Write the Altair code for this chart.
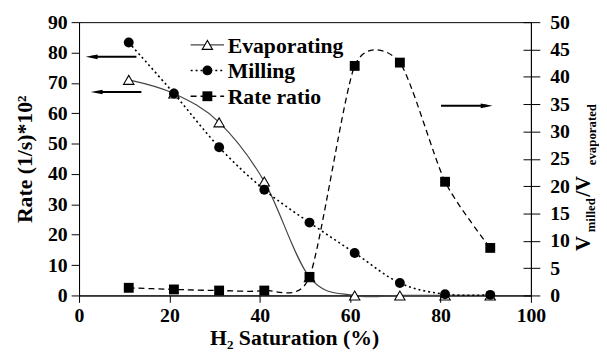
import altair as alt
import pandas as pd

# ---------------- data ----------------
sat = [11, 21, 31, 41, 51, 61, 71, 81, 91]
evaporating = [71.0, 66.5, 57.0, 37.5, 6.0, 0.0, 0.0, 0.0, 0.0]
milling = [83.3, 66.5, 48.8, 34.8, 24.0, 14.0, 4.1, 0.4, 0.2]
rate_ratio = [1.4, 1.1, 0.9, 0.9, 3.4, 42.0, 42.6, 20.8, 8.7]

series_names = ["Evaporating", "Milling", "Rate ratio"]

x_ticks = [0, 20, 40, 60, 80, 100]
rate_ticks = [0, 10, 20, 30, 40, 50, 60, 70, 80, 90]
ratio_ticks = [0, 5, 10, 15, 20, 25, 30, 35, 40, 45, 50]

# annotation arrows (data units)
left_arrow_y = [78.6, 67.0]
left_arrow_from = [12.7, 13.8]
left_arrow_to = [2.8, 3.9]
right_arrow_y = [34.7]
right_arrow_from = [80.1]
right_arrow_to = [90.2]

# legend rows (data units of rate axis)
legend_y = [82.5, 74.1, 65.6]
legend_x1 = [24.7, 24.7, 24.7]
legend_x2 = [32.1, 32.1, 32.1]
legend_xm = [28.4, 28.4, 28.4]
legend_xt = [32.9, 32.9, 32.9]

FONT = "Liberation Serif"

df = pd.DataFrame({"sat": sat, "evap": evaporating, "mill": milling, "ratio": rate_ratio})
leg = pd.DataFrame({"name": series_names, "y": legend_y, "x1": legend_x1,
                    "x2": legend_x2, "xm": legend_xm, "xt": legend_xt})
larr = pd.DataFrame({"y": left_arrow_y, "x1": left_arrow_from, "x2": left_arrow_to})
rarr = pd.DataFrame({"y": right_arrow_y, "x1": right_arrow_from, "x2": right_arrow_to})

xscale = alt.Scale(domain=[0, 100], nice=False)
rate_scale = alt.Scale(domain=[0, 90], nice=False)
ratio_scale = alt.Scale(domain=[0, 50], nice=False)

x_axis = alt.Axis(values=x_ticks, orient="bottom", tickSize=7, labelPadding=3,
                  labelFlush=False,
                  labelFontSize=20, labelFont=FONT, labelFontWeight="bold",
                  title="H₂ Saturation (%)", titleFont=FONT, titleFontSize=22,
                  titleFontWeight="bold", titleX=218, titleY=50,
                  titleBaseline="alphabetic", grid=False,
                  domainColor="black", tickColor="black", labelColor="black",
                  titleColor="black")

left_axis = alt.Axis(values=rate_ticks, orient="left", tickSize=8, labelPadding=4,
                     labelFlush=False,
                     labelFontSize=20, labelFont=FONT, labelFontWeight="bold",
                     title="Rate (1/s)*10²", titleFont=FONT, titleFontSize=22,
                     titleFontWeight="bold", titleX=-48, titleY=138.5,
                     titleAngle=270, titleBaseline="alphabetic", titleAlign="center",
                     grid=False, domainColor="black", tickColor="black",
                     labelColor="black", titleColor="black")

right_axis = alt.Axis(values=ratio_ticks, orient="right", tickSize=9, labelPadding=10,
                      labelFlush=False,
                      labelFontSize=20, labelFont=FONT, labelFontWeight="bold",
                      labelAlign="left", title="", grid=False,
                      domainColor="black", tickColor="black", labelColor="black")

inner_axis = alt.Axis(values=ratio_ticks, orient="right", tickSize=8, offset=-8,
                      labels=False, domain=False, title="", grid=False,
                      tickColor="black")

X = alt.X("sat:Q", scale=xscale, axis=x_axis)
Yrate = lambda f: alt.Y(f"{f}:Q", scale=rate_scale, axis=left_axis)
Yratio = lambda f: alt.Y(f"{f}:Q", scale=ratio_scale, axis=right_axis)

base = alt.Chart(df)

evap_line = base.mark_line(interpolate="cardinal", color="#444444", strokeWidth=1.2).encode(x=X, y=Yrate("evap"))
mill_line = base.mark_line(interpolate="cardinal", color="black", strokeWidth=1.6,
                           strokeDash=[2, 3]).encode(x=X, y=Yrate("mill"))
evap_pts = base.mark_point(shape="triangle-up", size=110, filled=True, fill="white",
                           stroke="black", strokeWidth=1.1, opacity=1).encode(x=X, y=Yrate("evap"))
mill_pts = base.mark_circle(size=100, color="black", opacity=1).encode(x=X, y=Yrate("mill"))

LEFT_HEAD = "M-1,0L1,-0.4L1,0.4Z"
RIGHT_HEAD = "M1,0L-1,-0.4L-1,0.4Z"

larrow_line = alt.Chart(larr).mark_rule(color="black", strokeWidth=2).encode(
    x=alt.X("x1:Q", scale=xscale, axis=x_axis), x2="x2:Q", y=alt.Y("y:Q", scale=rate_scale, axis=left_axis))
larrow_head = alt.Chart(larr).mark_point(shape=LEFT_HEAD, size=144, filled=True,
                                         color="black", opacity=1).encode(
    x=alt.X("x2:Q", scale=xscale, axis=x_axis), y=alt.Y("y:Q", scale=rate_scale, axis=left_axis))

# legend
legbase = alt.Chart(leg)
LX1 = alt.X("x1:Q", scale=xscale, axis=x_axis)
LY = alt.Y("y:Q", scale=rate_scale, axis=left_axis)
leg_evap_line = legbase.transform_filter(alt.datum.name == "Evaporating").mark_rule(
    color="#444444", strokeWidth=1.2).encode(x=LX1, x2="x2:Q", y=LY)
leg_mill_line = legbase.transform_filter(alt.datum.name == "Milling").mark_rule(
    color="black", strokeWidth=1.6, strokeDash=[2, 3]).encode(x=LX1, x2="x2:Q", y=LY)
leg_ratio_line = legbase.transform_filter(alt.datum.name == "Rate ratio").mark_rule(
    color="black", strokeWidth=1.3, strokeDash=[6, 4]).encode(x=LX1, x2="x2:Q", y=LY)
LXM = alt.X("xm:Q", scale=xscale, axis=x_axis)
leg_evap_pt = legbase.transform_filter(alt.datum.name == "Evaporating").mark_point(
    shape="triangle-up", size=110, filled=True, fill="white", stroke="black",
    strokeWidth=1.1, opacity=1).encode(x=LXM, y=LY)
leg_mill_pt = legbase.transform_filter(alt.datum.name == "Milling").mark_circle(
    size=100, color="black", opacity=1).encode(x=LXM, y=LY)
leg_ratio_pt = legbase.transform_filter(alt.datum.name == "Rate ratio").mark_square(
    size=100, color="black", opacity=1).encode(x=LXM, y=LY)
leg_text = legbase.mark_text(align="left", baseline="middle", font=FONT, fontSize=22,
                             fontWeight="bold", color="black", dy=1).encode(
    x=alt.X("xt:Q", scale=xscale, axis=x_axis), y=LY, text="name:N")

left_layer = alt.layer(evap_line, mill_line, evap_pts, mill_pts, larrow_line, larrow_head,
                       leg_evap_line, leg_mill_line, leg_ratio_line,
                       leg_evap_pt, leg_mill_pt, leg_ratio_pt, leg_text)

ratio_line = base.mark_line(interpolate="cardinal", tension=0.3, color="black", strokeWidth=1.3,
                            strokeDash=[6, 4]).encode(x=X, y=Yratio("ratio"))
ratio_pts = base.mark_square(size=100, color="black", opacity=1).encode(x=X, y=Yratio("ratio"))
rarrow_line = alt.Chart(rarr).mark_rule(color="black", strokeWidth=2).encode(
    x=alt.X("x1:Q", scale=xscale, axis=x_axis), x2="x2:Q",
    y=alt.Y("y:Q", scale=ratio_scale, axis=right_axis))
rarrow_head = alt.Chart(rarr).mark_point(shape=RIGHT_HEAD, size=144, filled=True,
                                         color="black", opacity=1).encode(
    x=alt.X("x2:Q", scale=xscale, axis=x_axis), y=alt.Y("y:Q", scale=ratio_scale, axis=right_axis))

right_layer = alt.layer(ratio_line, ratio_pts, rarrow_line, rarrow_head)

# inward half of the right-axis ticks + right axis title with subscripts
title_parts = ["V", "milled", "/V", "evaporated"]
title_sizes = [21, 13, 21, 13]
title_px = [518, 523, 518, 524]
title_py = [232, 213, 177, 145]

inner_ticks = base.mark_point(opacity=0).encode(
    x=X, y=alt.Y("ratio:Q", scale=ratio_scale, axis=inner_axis))

title_layers = []
for t, s, px, py in zip(title_parts, title_sizes, title_px, title_py):
    title_layers.append(
        alt.Chart(pd.DataFrame({"t": [t]})).mark_text(
            align="left", baseline="alphabetic", angle=270, font=FONT, fontSize=s,
            fontWeight="bold", color="black").encode(
            text="t:N", x=alt.value(px), y=alt.value(py)))

inner_layer = alt.layer(inner_ticks, *title_layers)

chart = alt.layer(left_layer, right_layer, inner_layer).resolve_scale(
    y="independent").properties(
    width=458, height=277,
    autosize=alt.AutoSizeParams(type="none"),
    padding={"left": 72, "top": 12, "right": 69, "bottom": 58},
    background="white",
).configure_view(stroke="black", strokeWidth=1).configure_axis(domainWidth=1, tickWidth=1)

chart.save("out.html", embed_options={"renderer": "svg", "actions": False})
